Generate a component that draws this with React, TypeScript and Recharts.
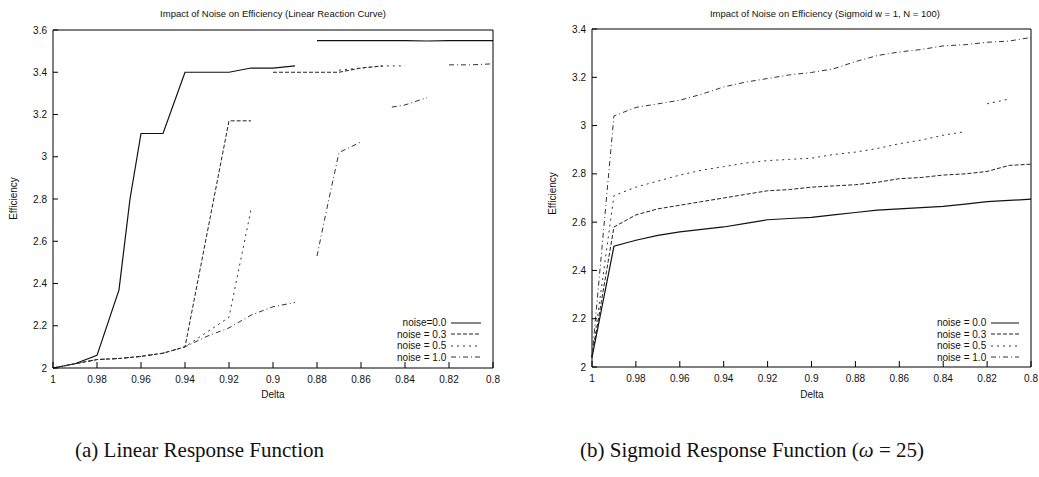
import React from "react";
import { LineChart, Line, XAxis, YAxis } from "recharts";

// ---- data: (a) linear response ----
const linD00 = [1, 0.99, 0.98, 0.97, 0.965, 0.96, 0.95, 0.94, 0.93, 0.92, 0.91, 0.9, 0.89, 0.885, 0.88, 0.87, 0.86, 0.85, 0.84, 0.83, 0.82, 0.81, 0.8];
const linE00 = [2.0, 2.02, 2.06, 2.37, 2.8, 3.11, 3.11, 3.4, 3.4, 3.4, 3.42, 3.42, 3.43, null, 3.55, 3.55, 3.55, 3.55, 3.55, 3.548, 3.55, 3.55, 3.55];
const linD03 = [1, 0.99, 0.98, 0.97, 0.96, 0.95, 0.94, 0.92, 0.91, 0.905, 0.9, 0.89, 0.88, 0.87, 0.86, 0.85];
const linE03 = [2.0, 2.02, 2.04, 2.045, 2.055, 2.07, 2.1, 3.17, 3.17, null, 3.4, 3.4, 3.4, 3.4, 3.42, 3.43];
const linD05 = [1, 0.99, 0.98, 0.97, 0.96, 0.95, 0.94, 0.93, 0.92, 0.91, 0.905, 0.87, 0.86, 0.85, 0.84];
const linE05 = [2.0, 2.02, 2.04, 2.045, 2.055, 2.07, 2.1, 2.17, 2.24, 2.75, null, 3.41, 3.42, 3.43, 3.43];
const linD10 = [1, 0.99, 0.98, 0.97, 0.96, 0.95, 0.94, 0.93, 0.92, 0.91, 0.9, 0.89, 0.885, 0.88, 0.875, 0.87, 0.86, 0.855, 0.846, 0.84, 0.83, 0.825, 0.82, 0.81, 0.8];
const linE10 = [2.0, 2.02, 2.04, 2.045, 2.055, 2.07, 2.1, 2.15, 2.19, 2.25, 2.29, 2.31, null, 2.53, 2.78, 3.02, 3.07, null, 3.235, 3.245, 3.28, null, 3.435, 3.435, 3.44];

// ---- data: (b) sigmoid response ----
const sigD = [1, 0.99, 0.98, 0.97, 0.96, 0.95, 0.94, 0.93, 0.92, 0.91, 0.9, 0.89, 0.88, 0.87, 0.86, 0.85, 0.84, 0.83, 0.82, 0.81, 0.8];
const sigE00 = [2.04, 2.5, 2.525, 2.545, 2.56, 2.57, 2.58, 2.595, 2.61, 2.615, 2.62, 2.63, 2.64, 2.65, 2.655, 2.66, 2.665, 2.675, 2.685, 2.69, 2.695];
const sigE03 = [2.04, 2.58, 2.63, 2.655, 2.67, 2.685, 2.7, 2.715, 2.73, 2.735, 2.745, 2.75, 2.755, 2.765, 2.78, 2.785, 2.795, 2.8, 2.81, 2.835, 2.84];
const sigD05 = [1, 0.99, 0.98, 0.97, 0.96, 0.95, 0.94, 0.93, 0.92, 0.91, 0.9, 0.89, 0.88, 0.87, 0.86, 0.85, 0.84, 0.83, 0.825, 0.82, 0.81];
const sigE05 = [2.04, 2.71, 2.745, 2.77, 2.795, 2.815, 2.83, 2.845, 2.855, 2.86, 2.865, 2.88, 2.89, 2.905, 2.925, 2.94, 2.96, 2.975, null, 3.09, 3.11];
const sigE10 = [2.04, 3.04, 3.075, 3.09, 3.105, 3.13, 3.16, 3.18, 3.195, 3.21, 3.22, 3.235, 3.265, 3.29, 3.305, 3.315, 3.33, 3.335, 3.345, 3.35, 3.365];

const deltaTicks = [1, 0.98, 0.96, 0.94, 0.92, 0.9, 0.88, 0.86, 0.84, 0.82, 0.8];
const linYTicks = [2, 2.2, 2.4, 2.6, 2.8, 3, 3.2, 3.4, 3.6];
const sigYTicks = [2, 2.2, 2.4, 2.6, 2.8, 3, 3.2, 3.4];

const linLabels = ["noise=0.0", "noise = 0.3", "noise = 0.5", "noise = 1.0"];
const sigLabels = ["noise = 0.0", "noise = 0.3", "noise = 0.5", "noise = 1.0"];

const dashes = [undefined, "4 2", "2 4", "5 3 1 3"];
const strokes = ["#111", "#222", "#333", "#333"];

const pts = (d: number[], e: (number | null)[]) => d.map((v, i) => ({ d: v, e: e[i] }));

const FONT = "'Liberation Sans', Arial, sans-serif";
const SERIF = "'Liberation Serif', 'Times New Roman', serif";

const BottomTick = (p: any) => (
  <g>
    <line x1={p.x} y1={p.y} x2={p.x} y2={p.y - 6} stroke="#000" />
    <text x={p.x} y={p.y + 15} textAnchor="middle" fontSize={10} fontFamily={FONT} fill="#111">{String(p.payload.value)}</text>
  </g>
);
const TopTick = (p: any) => <line x1={p.x} y1={p.y} x2={p.x} y2={p.y + 6} stroke="#000" />;
const LeftTick = (p: any) => (
  <g>
    <line x1={p.x} y1={p.y} x2={p.x + 5} y2={p.y} stroke="#000" />
    <text x={p.x - 6} y={p.y + 3.5} textAnchor="end" fontSize={10} fontFamily={FONT} fill="#111">{String(p.payload.value)}</text>
  </g>
);
const RightTick = (p: any) => <line x1={p.x} y1={p.y} x2={p.x - 5} y2={p.y} stroke="#000" />;

const NoiseLegend = ({ labels, textRight, lineW, top }: { labels: string[]; textRight: number; lineW: number; top: number }) => (
  <div style={{ position: "absolute", left: textRight - 120, top, width: 130 + lineW, fontFamily: FONT, fontSize: 10, color: "#111" }}>
    {labels.map((l, i) => (
      <div key={l} style={{ display: "flex", alignItems: "center", height: 11.5 }}>
        <span style={{ width: 120, textAlign: "right" }}>{l}</span>
        <svg width={lineW + 6} height={6} style={{ marginLeft: 5 }}>
          <line x1={0} y1={3} x2={lineW} y2={3} stroke={strokes[i]} strokeDasharray={dashes[i]} />
        </svg>
      </div>
    ))}
  </div>
);

type Series = { data: { d: number; e: number | null }[] };

const Panel = ({ series, yTicks, yMax, margin, width }: { series: Series[]; yTicks: number[]; yMax: number; margin: any; width: number }) => (
  <LineChart width={width} height={420} margin={margin}>
    <XAxis xAxisId="b" dataKey="d" type="number" domain={[0.8, 1]} reversed ticks={deltaTicks} tick={<BottomTick />}
      height={1} tickSize={0} tickMargin={0} tickLine={false} axisLine={{ stroke: "#000" }} interval={0} />
    <XAxis xAxisId="t" orientation="top" dataKey="d" type="number" domain={[0.8, 1]} reversed ticks={deltaTicks} tick={<TopTick />}
      height={1} tickSize={0} tickMargin={0} tickLine={false} axisLine={{ stroke: "#000" }} interval={0} />
    <YAxis yAxisId="l" type="number" domain={[2, yMax]} ticks={yTicks} tick={<LeftTick />}
      width={1} tickSize={0} tickMargin={0} tickLine={false} axisLine={{ stroke: "#000" }} interval={0} />
    <YAxis yAxisId="r" orientation="right" type="number" domain={[2, yMax]} ticks={yTicks} tick={<RightTick />}
      width={1} tickSize={0} tickMargin={0} tickLine={false} axisLine={{ stroke: "#000" }} interval={0} />
    {series.map((s, i) => (
      <Line key={i} xAxisId="b" yAxisId="l" data={s.data} dataKey="e" type="linear" stroke={strokes[i]}
        strokeWidth={i === 0 ? 1.2 : 1} strokeDasharray={dashes[i]} dot={false} activeDot={false} isAnimationActive={false} />
    ))}
  </LineChart>
);

const abs = (left: number, top: number, extra: React.CSSProperties = {}): React.CSSProperties => ({ position: "absolute", left, top, ...extra });

export default function App() {
  const linSeries = [pts(linD00, linE00), pts(linD03, linE03), pts(linD05, linE05), pts(linD10, linE10)].map((data) => ({ data }));
  const sigSeries = [pts(sigD, sigE00), pts(sigD, sigE03), pts(sigD05, sigE05), pts(sigD, sigE10)].map((data) => ({ data }));
  return (
    <div style={abs(0, 0, { width: 1039, height: 477, background: "#fff", overflow: "hidden" })}>
      <div style={abs(0, 0)}>
        <Panel series={linSeries} yTicks={linYTicks} yMax={3.6} width={520} margin={{ top: 29, right: 26, left: 52, bottom: 51 }} />
      </div>
      <div style={abs(520, 0)}>
        <Panel series={sigSeries} yTicks={sigYTicks} yMax={3.4} width={519} margin={{ top: 28, right: 7, left: 71, bottom: 52 }} />
      </div>

      <div style={abs(73, 8, { width: 400, textAlign: "center", fontFamily: FONT, fontSize: 9.5, color: "#111" })}>
        Impact of Noise on Efficiency (Linear Reaction Curve)
      </div>
      <div style={abs(585, 8, { width: 480, textAlign: "center", fontFamily: FONT, fontSize: 9.5, color: "#111" })}>
        Impact of Noise on Efficiency (Sigmoid w = 1, N = 100)
      </div>

      <div style={abs(-17, 193, { width: 60, textAlign: "center", fontFamily: FONT, fontSize: 10, color: "#111", transform: "rotate(-90deg)" })}>Efficiency</div>
      <div style={abs(522, 188, { width: 60, textAlign: "center", fontFamily: FONT, fontSize: 10, color: "#111", transform: "rotate(-90deg)" })}>Efficiency</div>

      <div style={abs(243, 389, { width: 60, textAlign: "center", fontFamily: FONT, fontSize: 10, color: "#111" })}>Delta</div>
      <div style={abs(782, 389, { width: 60, textAlign: "center", fontFamily: FONT, fontSize: 10, color: "#111" })}>Delta</div>

      <NoiseLegend labels={linLabels} textRight={447} lineW={30} top={317} />
      <NoiseLegend labels={sigLabels} textRight={987} lineW={28} top={317} />

      <div style={abs(75, 438, { fontFamily: SERIF, fontSize: 21, color: "#111", whiteSpace: "nowrap" })}>
        (a) Linear Response Function
      </div>
      <div style={abs(580, 438, { fontFamily: SERIF, fontSize: 21, color: "#111", whiteSpace: "nowrap" })}>
        (b) Sigmoid Response Function (<i>ω</i> = 25)
      </div>
    </div>
  );
}
